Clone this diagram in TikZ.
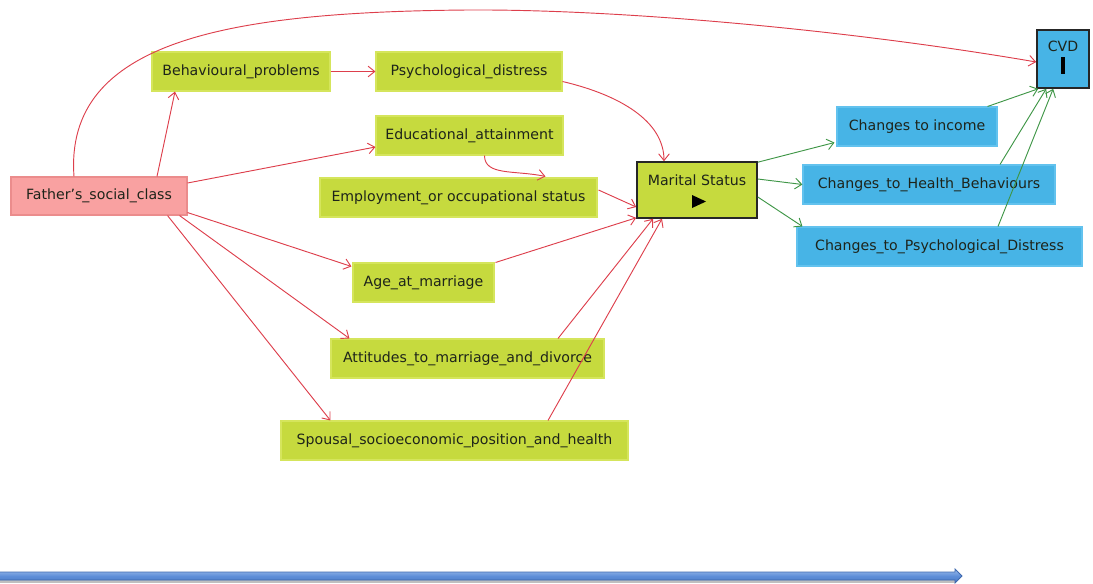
\documentclass[tikz,border=0pt]{standalone}
\usepackage{fontspec}
\setmainfont{DejaVu Sans}
\usetikzlibrary{arrows.meta,calc}

\definecolor{boxgreen}{HTML}{C6DA3E}
\definecolor{boxgreenedge}{HTML}{D5E55C}
\definecolor{boxpink}{HTML}{F9A1A1}
\definecolor{boxpinkedge}{HTML}{EB8C8C}
\definecolor{boxblue}{HTML}{47B4E6}
\definecolor{boxblueedge}{HTML}{62C2EE}
\definecolor{linkred}{HTML}{DD3F4C}
\definecolor{linkgreen}{HTML}{3F9647}
\definecolor{labeltext}{HTML}{1E241A}
\definecolor{barbluetop}{HTML}{9CBDEB}
\definecolor{barbluemid}{HTML}{5E8ED8}
\definecolor{barbluebottom}{HTML}{4A78C2}
\definecolor{barblueedge}{HTML}{3E68AE}

\begin{document}
\begin{tikzpicture}[x=0.75pt,y=-0.75pt,
  every node/.style={font=\fontsize{10.6}{12}\selectfont, text=labeltext, inner sep=0pt},
  nodebox/.style={rectangle, minimum height=29.25pt, line width=0.8pt},
  gbox/.style={nodebox, fill=boxgreen, draw=boxgreenedge},
  pbox/.style={nodebox, fill=boxpink, draw=boxpinkedge},
  bluebox/.style={nodebox, fill=boxblue, draw=boxblueedge},
  keybox/.style={draw=black!85, line width=1.2pt},
  redlink/.style={draw=linkred, line width=0.7pt, -{Straight Barb[length=5pt,width=8pt]}},
  greenlink/.style={draw=linkgreen, line width=0.7pt, -{Straight Barb[length=5pt,width=8pt]}},
]
\useasboundingbox (0,0) rectangle (1093,583);

% exposure
\node[pbox, minimum width=132pt, minimum height=28.5pt] (father) at (99,196) {Father's\_social\_class};

% intermediate factors
\node[gbox, minimum width=133.5pt] (behav)   at (241,71.5)   {Behavioural\_problems};
\node[gbox, minimum width=139.5pt] (psych)   at (469,71.5)   {Psychological\_distress};
\node[gbox, minimum width=140.25pt] (educ)   at (469.5,135.5) {Educational\_attainment};
\node[gbox, minimum width=207.75pt] (employ) at (458.5,197.5) {Employment\_or occupational status};
\node[gbox, minimum width=105.75pt] (age)    at (423.5,282.5) {Age\_at\_marriage};
\node[gbox, minimum width=204.75pt] (attit)  at (467.5,358.5) {Attitudes\_to\_marriage\_and\_divorce};
\node[gbox, minimum width=260.25pt] (spousal) at (454.5,440.5) {Spousal\_socioeconomic\_position\_and\_health};

% marital status
\node[gbox, keybox, minimum width=90pt, minimum height=42pt] (marital) at (697,190) {};
\node (maritallabel) at ($(marital.center)+(0,-10)$) {Marital Status};
\fill[black] ($(marital.center)+(-5,5)$) -- ($(marital.center)+(9,11.5)$) -- ($(marital.center)+(-5,18)$) -- cycle;

% mediators
\node[bluebox, minimum width=120pt]    (income) at (917,126.5) {Changes to income};
\node[bluebox, minimum width=189pt]    (health) at (929,184.5) {Changes\_to\_Health\_Behaviours};
\node[bluebox, minimum width=213.75pt] (pdist)  at (939.5,246.5) {Changes\_to\_Psychological\_Distress};

% outcome
\node[bluebox, keybox, minimum width=39pt, minimum height=43.5pt] (cvd) at (1063,59) {};
\node (cvdlabel) at ($(cvd.center)+(0,-13)$) {CVD};
\node[fill=black, minimum width=3pt, minimum height=12.75pt] (cvdbar) at ($(cvd.center)+(0,6.5)$) {};

% paths from father's social class
\draw[redlink] ($(father.north)+(58,0)$) -- ($(behav.south)+(-66,0)$);
\draw[redlink] (behav.east) -- (psych.west);
\draw[redlink] ($(father.east)+(0,-13)$) -- ($(educ.west)+(0,11.5)$);
\draw[redlink] ($(father.south east)+(0,-3)$) -- ($(age.north west)+(-1,4)$);
\draw[redlink] ($(father.south east)+(-8,0)$) -- ($(attit.north west)+(19,0)$);
\draw[redlink] ($(father.south east)+(-20,0)$) -- ($(spousal.north west)+(50,0)$);
\draw[redlink] ($(father.north)+(-25,0)$) .. controls (64,40) and (230,12) .. (467,10)
  .. controls (620,9) and (850,30) .. ($(cvd.west)+(0,3)$);

% paths into marital status
\draw[redlink] ($(psych.east)+(0,10)$) .. controls (620,95) and ($(marital.north)+(-33,-40)$) .. ($(marital.north)+(-33,0)$);
\draw[redlink] ($(educ.south)+(15,0)$) .. controls (484.5,176) and (515,170) .. ($(employ.north)+(87,-1)$);
\draw[redlink] ($(employ.east)+(1,-7.5)$) -- ($(marital.west)+(0,17)$);
\draw[redlink] ($(age.north east)+(1,0)$) -- ($(marital.south west)+(0,-1)$);
\draw[redlink] ($(attit.north)+(90.5,0)$) -- ($(marital.south)+(-44,0)$);
\draw[redlink] ($(spousal.north)+(93.5,0)$) -- ($(marital.south)+(-35,0)$);

% marital status to mediators to CVD
\draw[greenlink] ($(marital.north east)+(0,1)$) -- ($(income.south west)+(-2,-4)$);
\draw[greenlink] ($(marital.east)+(0,-11)$) -- (health.west);
\draw[greenlink] ($(marital.east)+(0,7)$) -- ($(pdist.north west)+(6,0)$);
\draw[greenlink] ($(income.north east)+(-10,0)$) -- ($(cvd.south west)+(2,0)$);
\draw[greenlink] ($(health.north)+(71,0)$) -- ($(cvd.south west)+(10,0)$);
\draw[greenlink] ($(pdist.north)+(58.5,0)$) -- ($(cvd.south west)+(17,0)$);

% time arrow along the bottom
\fill[black!25] (-2,580) rectangle (955,582.5);
\draw[draw=barblueedge, line width=0.6pt, top color=barbluetop, bottom color=barbluebottom, middle color=barbluemid]
  (-2,572) -- (955,572) -- (955,569) -- (962,576) -- (955,583) -- (955,580) -- (-2,580) -- cycle;
\end{tikzpicture}
\end{document}
